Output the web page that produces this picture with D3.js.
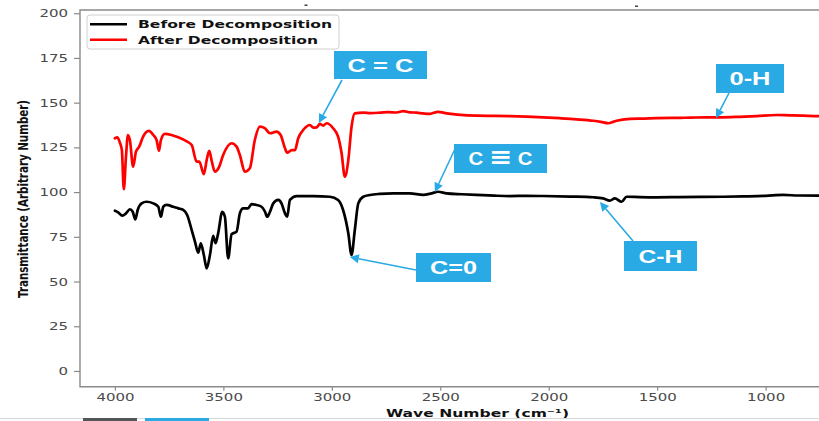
<!DOCTYPE html>
<html>
<head>
<meta charset="utf-8">
<script src="https://cdn.jsdelivr.net/npm/d3@7"></script>
<style>
  body { margin: 0; background: #fff; }
  svg { display: block; }
</style>
</head>
<body>
<svg id="chart" width="819" height="421"></svg>
<script>
// FTIR spectra: [wave number (cm^-1), transmittance (arbitrary)]
const beforeSpectrum = [
  [4000,89.6],[3985,88.7],[3966,86.8],[3949,88.1],[3931,90.4],[3918,89.0],[3906,84.8],[3895,90.0],
  [3877,93.7],[3854,94.6],[3823,93.7],[3800,91.8],[3788,86.2],[3777,91.8],[3762,92.8],[3731,91.8],
  [3708,90.9],[3685,90.0],[3667,87.2],[3646,78.8],[3631,72.3],[3616,66.1],[3604,71.4],[3590,64.8],
  [3577,57.4],[3562,64.8],[3547,75.5],[3536,71.4],[3524,77.0],[3505,89.0],[3493,86.2],[3478,63.0],
  [3462,76.5],[3439,77.9],[3424,88.1],[3409,90.9],[3386,90.9],[3370,93.3],[3347,92.8],[3324,91.8],
  [3308,89.0],[3298,86.2],[3285,89.0],[3270,93.7],[3247,95.6],[3232,93.7],[3216,88.1],[3206,86.2],
  [3193,95.6],[3162,97.8],[3086,97.8],[3009,97.4],[2971,95.6],[2948,90.0],[2924,77.0],[2909,64.8],
  [2894,78.8],[2878,93.7],[2855,97.4],[2824,98.4],[2780,99.0],[2717,99.3],[2640,99.3],[2579,98.4],
  [2540,99.3],[2510,100.2],[2471,99.3],[2400,98.8],[2333,98.4],[2250,98.0],[2179,97.8],[2100,97.9],
  [2026,97.8],[1900,97.5],[1795,97.1],[1749,96.5],[1718,95.2],[1695,96.5],[1664,94.6],[1641,97.4],
  [1580,97.2],[1503,97.1],[1400,97.2],[1300,97.3],[1196,97.4],[1100,97.6],[1000,97.9],[919,98.4],
  [850,98.1],[755,98.0],[680,98.0]
];
const afterSpectrum = [
  [4000,130.1],[3989,130.6],[3977,127.6],[3968,123.5],[3959,101.6],[3949,119.8],[3940,131.9],[3931,129.1],
  [3916,114.2],[3903,122.6],[3888,125.4],[3870,131.0],[3843,134.2],[3823,131.9],[3808,129.1],[3797,123.1],
  [3788,129.1],[3770,132.5],[3739,131.9],[3708,130.6],[3667,128.2],[3646,126.3],[3623,117.0],[3611,117.0],
  [3590,110.0],[3577,117.9],[3565,123.1],[3553,117.0],[3539,111.4],[3519,114.2],[3501,120.7],[3462,127.3],
  [3439,125.4],[3424,120.7],[3401,111.4],[3378,113.3],[3355,129.1],[3332,136.6],[3309,135.7],[3285,132.9],
  [3255,133.8],[3236,131.9],[3216,124.5],[3206,122.0],[3185,123.5],[3170,123.5],[3155,130.1],[3132,134.7],
  [3101,137.5],[3085,136.0],[3070,136.2],[3055,138.1],[3040,137.2],[3024,138.5],[2994,135.7],[2971,131.0],
  [2955,121.7],[2940,108.6],[2924,117.9],[2909,136.6],[2894,144.0],[2855,144.4],[2820,144.2],[2778,144.4],
  [2740,144.7],[2700,144.5],[2686,144.9],[2671,145.3],[2640,144.6],[2609,144.4],[2580,144.0],[2548,143.7],
  [2510,144.9],[2471,144.0],[2420,143.3],[2333,142.7],[2250,142.6],[2179,142.5],[2100,142.2],[2026,141.8],
  [1950,141.3],[1872,140.7],[1795,139.9],[1760,139.3],[1726,138.5],[1700,139.4],[1687,139.9],[1626,140.9],
  [1560,141.1],[1503,141.3],[1430,141.5],[1349,141.6],[1280,141.8],[1196,141.8],[1120,142.1],[1042,142.5],
  [950,143.1],[890,142.9],[827,142.7],[755,142.5],[680,142.5]
];
const seriesNames = ["Before Decomposition", "After Decomposition"];
const seriesColors = ["#000000", "#ff0000"];
const xTickValues = [4000, 3500, 3000, 2500, 2000, 1500, 1000];
const yTickValues = [0, 25, 50, 75, 100, 125, 150, 175, 200];

// Band assignments and the spectral point each arrow marks
const bandLabels = ["C = C", "0-H", "C \u2261 C", "C=0", "C-H"];
const bandWaveNumbers = [3060, 1229, 2525, 2917, 1764];
const bandTransmittance = [138.6, 141.4, 100.1, 63.7, 94.5];

const svg = d3.select("#chart");
const plot = { left: 80, top: 10, right: 819, bottom: 386.7 };

const x = d3.scaleLinear().domain([4161, 700]).range([80, 80 + 3461 * 0.2169]);
const y = d3.scaleLinear().domain([-8.8, 201.8]).range([386.7, 10]);

svg.append("rect").attr("width", 819).attr("height", 421).attr("fill", "#fff");

svg.append("defs").append("clipPath").attr("id", "plotClip")
  .append("rect")
  .attr("x", plot.left).attr("y", plot.top)
  .attr("width", plot.right - plot.left).attr("height", plot.bottom - plot.top);

const axisColor = "#8a8a8a";
const tickTextColor = "#4a4a4a";
const stretch = 1.36;

// Axes
const xAxis = svg.append("g")
  .attr("transform", `translate(0,${plot.bottom})`)
  .call(d3.axisBottom(x).tickValues(xTickValues).tickSize(4).tickPadding(2.5).tickFormat(d3.format("d")));
const yAxis = svg.append("g")
  .attr("transform", `translate(${plot.left},0)`)
  .call(d3.axisLeft(y).tickValues(yTickValues).tickSize(6).tickPadding(6).tickFormat(d3.format("d")));

[xAxis, yAxis].forEach(g => {
  g.select(".domain").remove();
  g.selectAll(".tick line").attr("stroke", axisColor).attr("stroke-width", 1.2);
  g.selectAll(".tick text")
    .attr("fill", tickTextColor)
    .attr("font-family", "'DejaVu Sans', sans-serif")
    .attr("font-size", 11);
});
xAxis.selectAll(".tick text").attr("transform", `scale(${stretch},1)`);
yAxis.selectAll(".tick text")
  .attr("x", -12 / stretch)
  .attr("transform", `scale(${stretch},1)`);

// Spines (left, top, bottom)
svg.append("path")
  .attr("d", `M${plot.right + 5},${plot.top}H${plot.left}V${plot.bottom}H${plot.right + 5}`)
  .attr("fill", "none").attr("stroke", axisColor).attr("stroke-width", 1.4);

// Spectra
const line = d3.line()
  .x(d => x(d[0]))
  .y(d => y(d[1]))
  .curve(d3.curveMonotoneX);

const curves = svg.append("g").attr("clip-path", "url(#plotClip)");
[beforeSpectrum, afterSpectrum].forEach((data, i) => {
  curves.append("path")
    .datum(data)
    .attr("d", line)
    .attr("fill", "none")
    .attr("stroke", seriesColors[i])
    .attr("stroke-width", 2.7)
    .attr("stroke-linejoin", "round")
    .attr("stroke-linecap", "round");
});

// Legend
const legend = svg.append("g");
legend.append("rect")
  .attr("x", 87).attr("y", 15).attr("width", 252).attr("height", 34).attr("rx", 3)
  .attr("fill", "#fff").attr("stroke", "#d0d0d0").attr("stroke-width", 1);
const legendRowY = [24.3, 39.8];
const legendTextW = [194, 180];
seriesNames.forEach((name, i) => {
  legend.append("line")
    .attr("x1", 90).attr("x2", 127)
    .attr("y1", legendRowY[i]).attr("y2", legendRowY[i])
    .attr("stroke", seriesColors[i]).attr("stroke-width", 2.4);
  legend.append("text")
    .attr("x", 138).attr("y", legendRowY[i] + 4)
    .attr("font-family", "'DejaVu Sans', sans-serif")
    .attr("font-weight", "bold").attr("font-size", 10.8)
    .attr("fill", "#111")
    .attr("textLength", legendTextW[i]).attr("lengthAdjust", "spacingAndGlyphs")
    .text(name);
});

// Axis titles
svg.append("text")
  .attr("x", 386).attr("y", 416.5)
  .attr("font-family", "'DejaVu Sans', sans-serif")
  .attr("font-weight", "bold").attr("font-size", 11)
  .attr("fill", "#111")
  .attr("textLength", 183).attr("lengthAdjust", "spacingAndGlyphs")
  .text("Wave Number (cm\u207B\u00B9)");

svg.append("text")
  .attr("transform", `translate(27.5,199) scale(1.4,1) rotate(-90)`)
  .attr("text-anchor", "middle")
  .attr("font-family", "'DejaVu Sans', sans-serif")
  .attr("font-weight", "bold").attr("font-size", 10.3)
  .attr("fill", "#111")
  .attr("textLength", 198).attr("lengthAdjust", "spacingAndGlyphs")
  .text("Transmittance (Arbitrary Number)");

// Band callouts: box placement and arrow start in pixels
const calloutLayout = [
  { x0: 334, y0: 51,  x1: 427, y1: 79,  textW: 66, from: [342, 80] },
  { x0: 716, y0: 64,  x1: 784, y1: 93,  textW: 41, from: [729, 93] },
  { x0: 454, y0: 144, x1: 547, y1: 173, textW: 64, from: [455, 149] },
  { x0: 416, y0: 253, x1: 491, y1: 282, textW: 47, from: [416, 270] },
  { x0: 624, y0: 241, x1: 697, y1: 271, textW: 44, from: [633, 241] }
];
const calloutBlue = "#2aaae4";
const callouts = svg.append("g");
bandLabels.forEach((label, i) => {
  const L = calloutLayout[i];
  const tx = x(bandWaveNumbers[i]), ty = y(bandTransmittance[i]);
  const [fx, fy] = L.from;
  const ang = Math.atan2(ty - fy, tx - fx);
  const headLen = 9, headHalf = 4.5;
  const bx = tx - headLen * Math.cos(ang), by = ty - headLen * Math.sin(ang);
  callouts.append("line")
    .attr("x1", fx).attr("y1", fy).attr("x2", bx).attr("y2", by)
    .attr("stroke", calloutBlue).attr("stroke-width", 1.6);
  const px = -Math.sin(ang), py = Math.cos(ang);
  callouts.append("path")
    .attr("d", `M${tx},${ty}L${bx + px * headHalf},${by + py * headHalf}L${bx - px * headHalf},${by - py * headHalf}Z`)
    .attr("fill", calloutBlue);
  callouts.append("rect")
    .attr("x", L.x0).attr("y", L.y0)
    .attr("width", L.x1 - L.x0).attr("height", L.y1 - L.y0)
    .attr("fill", calloutBlue);
  const t = callouts.append("text")
    .attr("x", (L.x0 + L.x1) / 2).attr("y", (L.y0 + L.y1) / 2 + 6.5)
    .attr("text-anchor", "middle")
    .attr("font-family", "'Liberation Sans', Arial, sans-serif")
    .attr("font-weight", "bold").attr("font-size", 17.5)
    .attr("fill", "#fff")
    .attr("textLength", L.textW).attr("lengthAdjust", "spacingAndGlyphs");
  // the triple-bond sign is set larger so it reads at cap height
  label.split(/(\u2261)/).forEach(part => {
    if (!part) return;
    const span = t.append("tspan").text(part);
    if (part === "\u2261") {
      span.attr("font-family", "'DejaVu Sans', sans-serif").attr("font-size", 24);
    }
  });
});

// Small marks along the top edge and the strip at the bottom of the page
svg.append("rect").attr("x", 304.5).attr("y", 4.5).attr("width", 3).attr("height", 1.5).attr("fill", "#444");
svg.append("rect").attr("x", 635).attr("y", 5.5).attr("width", 3).attr("height", 1.5).attr("fill", "#444");
svg.append("line").attr("x1", 0).attr("x2", 819).attr("y1", 418.5).attr("y2", 418.5)
  .attr("stroke", "#d8d8d8").attr("stroke-width", 1);
svg.append("rect").attr("x", 83).attr("y", 418).attr("width", 54).attr("height", 3).attr("fill", "#555");
svg.append("rect").attr("x", 145).attr("y", 418).attr("width", 64).attr("height", 3).attr("fill", calloutBlue);
</script>
</body>
</html>
